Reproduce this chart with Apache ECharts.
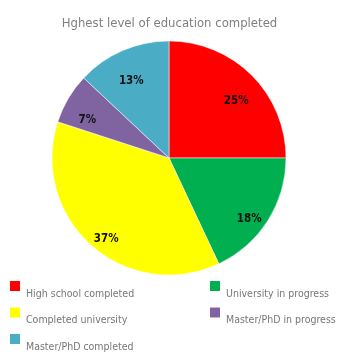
<!DOCTYPE html>
<html>
<head>
<meta charset="utf-8">
<script src="https://cdn.jsdelivr.net/npm/echarts@6/dist/echarts.min.js"></script>
<style>
  html, body { margin: 0; padding: 0; background: #fff; }
  #chart { width: 339px; height: 352px; }
</style>
</head>
<body>
<div id="chart"></div>
<script>
// Education levels and their shares (percent)
const categories = [
  'High school completed',
  'University in progress',
  'Completed university',
  'Master/PhD in progress',
  'Master/PhD completed'
];
const shares = [25, 18, 37, 7, 13];
const colors = ['#ff0000', '#00b050', '#ffff00', '#8064a2', '#4bacc6'];

const FONT = '"DejaVu Sans Condensed", "Liberation Sans Narrow", sans-serif';

const pieData = categories.map((name, i) => ({
  name: name,
  value: shares[i],
  itemStyle: { color: colors[i] }
}));

// legend text sits a little below its colour square
const legendText = {
  color: '#777777',
  fontFamily: FONT,
  fontSize: 10.5,
  rich: {
    t: { color: '#777777', fontFamily: FONT, fontSize: 10.5, padding: [16, 0, 0, 0] }
  }
};

const legendBase = {
  top: 279, orient: 'vertical',
  padding: 0, height: 100,
  itemWidth: 12, itemHeight: 12, itemGap: 6,
  icon: 'rect',
  formatter: name => '{t|' + name + '}',
  textStyle: legendText
};

const chart = echarts.init(document.getElementById('chart'), null, { renderer: 'canvas' });
chart.setOption({
  animation: false,
  title: {
    text: 'Hghest level of education completed',
    left: 'center',
    top: 12,
    textStyle: { color: '#7f7f7f', fontFamily: FONT, fontSize: 13, fontWeight: 'normal' }
  },
  legend: [
    Object.assign({}, legendBase, { left: 8, data: [categories[0], categories[2], categories[4]] }),
    Object.assign({}, legendBase, { left: 208, data: [categories[1], categories[3]] })
  ],
  series: [
    {
      // filled slices
      type: 'pie',
      center: [169, 158],
      radius: [0, 117],
      startAngle: 90,
      clockwise: true,
      label: { show: false },
      labelLine: { show: false },
      itemStyle: { borderColor: '#ffffff', borderWidth: 0.5 },
      data: pieData
    },
    {
      // transparent ring carrying the percentage labels
      type: 'pie',
      center: [169, 158],
      radius: [67, 117],
      startAngle: 90,
      clockwise: true,
      silent: true,
      itemStyle: { color: 'rgba(0,0,0,0)' },
      label: {
        show: true,
        position: 'inside',
        formatter: '{c}%',
        offset: [0, 10],
        color: '#111',
        fontFamily: FONT,
        fontSize: 11.5,
        fontWeight: 'bold'
      },
      labelLine: { show: false },
      data: pieData.map(d => ({ name: d.name, value: d.value, itemStyle: { color: 'rgba(0,0,0,0)' } }))
    }
  ]
});
</script>
</body>
</html>
